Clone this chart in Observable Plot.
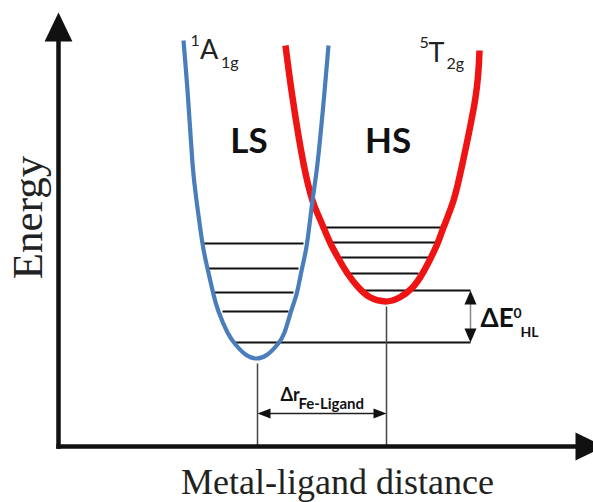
<!DOCTYPE html>
<html>
<head>
<meta charset="utf-8">
<script src="https://cdn.jsdelivr.net/npm/d3@7"></script>
<script src="https://cdn.jsdelivr.net/npm/@observablehq/plot@0.6"></script>
<style>
  html, body { margin: 0; padding: 0; background: #fff; overflow: hidden; }
</style>
</head>
<body>
<div id="chart"></div>
<script>
// Potential-energy curves (metal–ligand distance r, energy e)
const lsCurve = [
  {r: 12.5, e: 40.6}, {r: 12.95, e: 34.9}, {r: 13.4, e: 28.3}, {r: 13.8, e: 24.6},
  {r: 14.4, e: 20.3}, {r: 14.9, e: 17.8}, {r: 15.45, e: 15.4}, {r: 16.0, e: 13.5},
  {r: 16.9, e: 11.4}, {r: 17.7, e: 10.2}, {r: 18.7, e: 9.2}, {r: 19.8, e: 8.8},
  {r: 20.9, e: 9.2}, {r: 21.9, e: 10.2}, {r: 22.6, e: 11.4}, {r: 23.25, e: 13.5},
  {r: 23.85, e: 15.4}, {r: 24.35, e: 17.8}, {r: 24.85, e: 20.3}, {r: 25.4, e: 24.6},
  {r: 25.9, e: 28.3}, {r: 26.55, e: 34.9}, {r: 27.0, e: 40.1}
];
const hsCurve = [
  {r: 22.7, e: 40.1}, {r: 23.4, e: 34.9}, {r: 24.5, e: 28.3}, {r: 25.4, e: 24.6},
  {r: 25.9, e: 23.3}, {r: 26.5, e: 21.9}, {r: 27.2, e: 20.3}, {r: 28.0, e: 18.8},
  {r: 28.9, e: 17.3}, {r: 30.0, e: 15.9}, {r: 31.2, e: 14.9}, {r: 32.7, e: 14.5},
  {r: 34.1, e: 14.9}, {r: 35.4, e: 15.9}, {r: 36.4, e: 17.3}, {r: 37.2, e: 18.8},
  {r: 37.9, e: 20.3}, {r: 38.5, e: 21.9}, {r: 39.5, e: 24.6}, {r: 40.4, e: 28.3},
  {r: 41.7, e: 34.9}, {r: 42.1, e: 39.6}
];

// Vibrational levels: energy, start and end distance
const lsLevels = [
  {e: 20.3, r1: 14.5, r2: 24.5}, {e: 17.8, r1: 15.0, r2: 24.0},
  {e: 15.4, r1: 15.5, r2: 23.5}, {e: 13.5, r1: 16.4, r2: 23.0},
  {e: 10.4, r1: 17.7, r2: 41.2}
];
const hsLevels = [
  {e: 21.9, r1: 26.5, r2: 38.5}, {e: 20.4, r1: 27.2, r2: 37.9},
  {e: 18.9, r1: 28.0, r2: 37.2}, {e: 17.3, r1: 28.9, r2: 36.0},
  {e: 15.6, r1: 30.4, r2: 41.2}
];

// Equilibrium distances (curve minima)
const minima = [
  {state: "LS", r: 19.9, e: 8.8},
  {state: "HS", r: 32.8, e: 14.5}
];

// Axis extents (data units)
const rMax = 54.6;
const eMax = 43.4;

const lsZero = lsLevels[lsLevels.length - 1];
const hsZero = hsLevels[hsLevels.length - 1];
const drY = 3.3;

function head(ratio) {
  return {
    draw(ctx, size) {
      const r = Math.sqrt(size / Math.PI);
      ctx.moveTo(0, 0);
      ctx.lineTo(-ratio * r, r);
      ctx.lineTo(ratio * r, r);
      ctx.closePath();
    }
  };
}

const sans = "Lato, 'Open Sans', sans-serif";
const serif = "'Liberation Serif', 'DejaVu Serif', serif";

const chart = Plot.plot({
  width: 593,
  height: 502,
  marginLeft: 58,
  marginRight: 0,
  marginTop: 0,
  marginBottom: 56,
  style: {background: "#fff", overflow: "visible"},
  x: {domain: [0, 53.5], axis: null},
  y: {domain: [0, 44.6], axis: null},
  marks: [
    // vibrational levels
    Plot.link(lsLevels, {x1: "r1", x2: "r2", y1: "e", y2: "e", stroke: "#111", strokeWidth: 2}),
    Plot.link(hsLevels, {x1: "r1", x2: "r2", y1: "e", y2: "e", stroke: "#111", strokeWidth: 2}),
    // drop lines from minima
    Plot.link(minima, {x1: "r", x2: "r", y1: d => d.e - 0.5, y2: 0, stroke: "#444", strokeWidth: 1.5}),
    // ΔE bracket
    Plot.link([0], {x1: lsZero.r2, x2: lsZero.r2, y1: lsZero.e + 1.2, y2: hsZero.e - 1.2, stroke: "#888", strokeWidth: 1.5}),
    Plot.dot([0], {x: hsZero.r2, y: hsZero.e, symbol: head(0.43), r: 14, fill: "#111", stroke: "none"}),
    Plot.dot([0], {x: lsZero.r2, y: lsZero.e, symbol: head(0.43), r: 14, rotate: 180, fill: "#111", stroke: "none"}),
    // Δr arrow
    Plot.link([0], {x1: minima[0].r + 1, x2: minima[1].r - 1, y1: drY, y2: drY, stroke: "#222", strokeWidth: 1.5}),
    Plot.dot([0], {x: minima[0].r, y: drY, symbol: head(0.38), r: 13, rotate: -90, fill: "#111", stroke: "none"}),
    Plot.dot([0], {x: minima[1].r, y: drY, symbol: head(0.38), r: 13, rotate: 90, fill: "#111", stroke: "none"}),
    // curves (red beneath blue)
    Plot.line(hsCurve, {x: "r", y: "e", curve: "natural", stroke: "#ee1414", strokeWidth: 6.5, strokeLinecap: "butt"}),
    Plot.line(lsCurve, {x: "r", y: "e", curve: "natural", stroke: "#4a7ebb", strokeWidth: 4.2, strokeLinecap: "butt"}),
    // axes
    Plot.link([0], {x1: 0, x2: 0, y1: 0, y2: eMax - 2.5, stroke: "#111", strokeWidth: 4.5, strokeLinecap: "square"}),
    Plot.link([0], {x1: 0, x2: rMax - 2.5, y1: 0, y2: 0, stroke: "#111", strokeWidth: 4.5, strokeLinecap: "square"}),
    Plot.dot([0], {x: 0, y: eMax, symbol: head(0.48), r: 29, fill: "#111", stroke: "none"}),
    Plot.dot([0], {x: rMax, y: 0, symbol: head(0.48), r: 29, rotate: 90, fill: "#111", stroke: "none"}),
    // axis titles
    Plot.text(["Energy"], {x: -3.0, y: 22.9, text: d => d, rotate: -90, fontFamily: serif, fontSize: 43, fill: "#222"}),
    Plot.text(["Metal-ligand distance"], {x: 27.9, y: -3.55, text: d => d, fontFamily: serif, fontSize: 36, fill: "#222"}),
    // state labels
    Plot.text(["LS"], {x: 19.05, y: 30.45, text: d => d, fontFamily: sans, fontWeight: "bold", fontSize: 35, fill: "#111"}),
    Plot.text(["HS"], {x: 32.95, y: 30.45, text: d => d, fontFamily: sans, fontWeight: "bold", fontSize: 35, fill: "#111"}),
    // term symbols
    Plot.text(["1"], {x: 13.2, y: 40.6, text: d => d, textAnchor: "start", fontFamily: sans, fontSize: 16, fill: "#222"}),
    Plot.text(["A"], {x: 14.15, y: 39.6, text: d => d, textAnchor: "start", fontFamily: sans, fontSize: 27, fill: "#222"}),
    Plot.text(["1g"], {x: 16.25, y: 38.4, text: d => d, textAnchor: "start", fontFamily: sans, fontSize: 16, fill: "#222"}),
    Plot.text(["5"], {x: 36.1, y: 40.4, text: d => d, textAnchor: "start", fontFamily: sans, fontSize: 16, fill: "#222"}),
    Plot.text(["T"], {x: 37.0, y: 39.35, text: d => d, textAnchor: "start", fontFamily: sans, fontSize: 27, fill: "#222"}),
    Plot.text(["2g"], {x: 38.8, y: 38.3, text: d => d, textAnchor: "start", fontFamily: sans, fontSize: 16, fill: "#222"}),
    // ΔE label
    Plot.text(["ΔE"], {x: 42.2, y: 12.8, text: d => d, textAnchor: "start", fontFamily: sans, fontWeight: "bold", fontSize: 26, fill: "#111"}),
    Plot.text(["0"], {x: 45.5, y: 13.3, text: d => d, textAnchor: "start", fontFamily: sans, fontWeight: "bold", fontSize: 14, fill: "#111"}),
    Plot.text(["HL"], {x: 46.2, y: 11.4, text: d => d, textAnchor: "start", fontFamily: sans, fontWeight: "bold", fontSize: 14, fill: "#111"}),
    // Δr label
    Plot.text(["Δr"], {x: 22.2, y: 5.1, text: d => d, textAnchor: "start", fontFamily: sans, fontWeight: "bold", fontSize: 18, fill: "#111"}),
    Plot.text(["Fe-Ligand"], {x: 24.0, y: 4.2, text: d => d, textAnchor: "start", fontFamily: sans, fontWeight: "bold", fontSize: 15, fill: "#111"})
  ]
});
document.getElementById("chart").appendChild(chart);
</script>
</body>
</html>
